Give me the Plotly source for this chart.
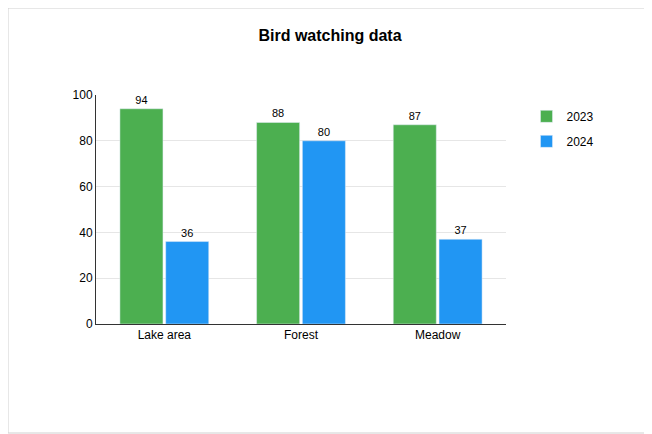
import plotly.graph_objects as go

categories = ["Lake area", "Forest", "Meadow"]
values_2023 = [94, 88, 87]
values_2024 = [36, 80, 37]

fig = go.Figure()
fig.add_trace(go.Bar(x=categories, y=values_2023, name="2023", marker_color="#4CAF50",
                     legendgroup="a",
                     text=values_2023, textposition="outside", textfont=dict(size=11, color="#000")))
fig.add_trace(go.Bar(x=categories, y=values_2024, name="2024", marker_color="#2196F3",
                     legendgroup="b",
                     text=values_2024, textposition="outside", textfont=dict(size=11, color="#000")))

# outer border of the card
fig.add_shape(type="rect", xref="paper", yref="paper",
              x0=-88 / 410, x1=(644 - 88 - 1) / 410, y0=-(110 - 1) / 229, y1=(229 + 87) / 229,
              line=dict(color="#d0d0d0", width=1))

fig.update_layout(
    width=644, height=426,
    margin=dict(l=88, r=146, t=87, b=110),
    paper_bgcolor="white", plot_bgcolor="white",
    font=dict(family="Liberation Sans, Arial", size=12, color="#000"),
    title=dict(text="<b>Bird watching data</b>", x=0.5, xanchor="center", y=0.935, yanchor="middle",
               font=dict(size=16)),
    barmode="group", bargap=0.33, bargroupgap=0.06,
    xaxis=dict(showline=True, linecolor="#333", linewidth=1, ticks=""),
    yaxis=dict(range=[0, 100], dtick=20, showgrid=True, gridcolor="#e6e6e6",
               showline=True, linecolor="#333", zeroline=False, ticks=""),
    legend=dict(x=1.05, y=0.97, xanchor="left", yanchor="top", font=dict(size=12),
                tracegroupgap=6),
)
fig.update_traces(cliponaxis=False)

fig.write_html("out.html")
